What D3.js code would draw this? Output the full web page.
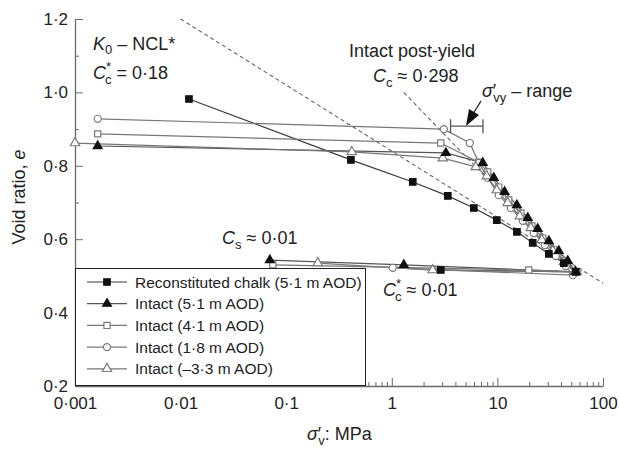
<!DOCTYPE html>
<html>
<head>
<meta charset="utf-8">
<script src="https://cdn.jsdelivr.net/npm/d3@7"></script>
<style>
  body { margin: 0; background: #fff; }
  svg { display: block; font-family: Arial, "Liberation Sans", sans-serif; }
</style>
</head>
<body>
<svg id="chart" width="619" height="450"></svg>
<script>
// Reconstituted chalk (5.1 m AOD)
const reconSigma = [0.012, 0.41, 1.58, 3.39, 5.98, 9.87, 15.3, 21.6, 30.7, 42.6, 55.2, 2.91];
const reconE     = [0.982, 0.816, 0.756, 0.718, 0.685, 0.652, 0.620, 0.590, 0.560, 0.535, 0.511, 0.516];

// Intact (5.1 m AOD)
const int51Sigma = [0.00164, 3.25, 7.27, 9.25, 11.7, 15.3, 19.4, 24.1, 30.7, 38.1, 46.4, 55.2, 1.30, 0.070];
const int51E     = [0.854, 0.835, 0.808, 0.767, 0.729, 0.693, 0.658, 0.628, 0.595, 0.568, 0.541, 0.511, 0.530, 0.543];

// Intact (4.1 m AOD)
const int41Sigma = [0.00164, 2.91, 6.67, 8.11, 10.3, 12.8, 16.7, 21.2, 26.9, 34.2, 43.5, 57.7, 19.8, 0.0747];
const int41E     = [0.887, 0.862, 0.810, 0.783, 0.742, 0.707, 0.671, 0.636, 0.603, 0.571, 0.538, 0.511, 0.516, 0.530];

// Intact (1.8 m AOD)
const int18Sigma = [0.00164, 3.11, 5.48, 6.67, 8.11, 10.3, 13.4, 17.4, 22.1, 28.1, 35.7, 44.4, 51.8, 1.02];
const int18E     = [0.928, 0.900, 0.862, 0.808, 0.767, 0.720, 0.685, 0.650, 0.617, 0.584, 0.554, 0.527, 0.502, 0.522];

// Intact (-3.3 m AOD)
const intM33Sigma = [0.001, 0.418, 3.04, 6.24, 7.94, 9.87, 12.5, 16.3, 20.7, 26.3, 33.5, 42.6, 54.1, 2.44, 0.199];
const intM33E     = [0.862, 0.838, 0.821, 0.797, 0.772, 0.734, 0.699, 0.663, 0.631, 0.598, 0.568, 0.538, 0.511, 0.516, 0.535];

// Reference lines: K0-NCL* (Cc* = 0.18) and intact post-yield (Cc = 0.298)
const nclSigma = [0.01, 100];
const nclE     = [1.2, 0.48];
const ccSigma  = [1.3, 55];
const ccE      = [1.0, 0.515];

// Yield stress range bracket
const yieldRange = [3.6, 7.3];
const yieldRangeE = 0.908;

const legendLabels = [
  "Reconstituted chalk (5·1 m AOD)",
  "Intact (5·1 m AOD)",
  "Intact (4·1 m AOD)",
  "Intact (1·8 m AOD)",
  "Intact (–3·3 m AOD)"
];

const xTicks = [0.001, 0.01, 0.1, 1, 10, 100];
const xTickLabels = ["0·001", "0·01", "0·1", "1", "10", "100"];
const yTicks = [0.2, 0.4, 0.6, 0.8, 1.0, 1.2];
const yTickLabels = ["0·2", "0·4", "0·6", "0·8", "1·0", "1·2"];

const svg = d3.select("#chart");

const x = d3.scaleLog().domain([0.001, 100]).range([75, 603]);
const y = d3.scaleLinear().domain([0.2, 1.2]).range([386, 19]);

const axisColor = "#6a6a6a";
const textColor = "#222";

// Minor ticks
const xMinor = [];
[0.001, 0.01, 0.1, 1, 10].forEach(dec => {
  for (let k = 2; k <= 9; k++) xMinor.push(dec * k);
});
const yMinor = [0.3, 0.5, 0.7, 0.9, 1.1];

// X axis
const xAxisG = svg.append("g")
  .attr("transform", "translate(0,386)")
  .attr("color", axisColor)
  .call(d3.axisBottom(x).tickValues(xTicks).tickSize(-8).tickSizeOuter(0)
    .tickPadding(11).tickFormat((d, i) => xTickLabels[i]));
xAxisG.selectAll("text").attr("fill", textColor).attr("font-size", 17)
  .attr("font-family", "Arial, 'Liberation Sans', sans-serif");
xAxisG.select(".domain").attr("stroke-width", 1.3);

svg.append("g")
  .attr("transform", "translate(0,386)")
  .attr("color", axisColor)
  .call(d3.axisBottom(x).tickValues(xMinor).tickSize(-4).tickFormat(""))
  .call(g => g.select(".domain").remove());

// Y axis
const yAxisG = svg.append("g")
  .attr("transform", "translate(75,0)")
  .attr("color", axisColor)
  .call(d3.axisLeft(y).tickValues(yTicks).tickSize(-8).tickSizeOuter(0)
    .tickPadding(7).tickFormat((d, i) => yTickLabels[i]));
yAxisG.selectAll("text").attr("fill", textColor).attr("font-size", 17)
  .attr("font-family", "Arial, 'Liberation Sans', sans-serif");
yAxisG.select(".domain").attr("stroke-width", 1.3);

svg.append("g")
  .attr("transform", "translate(75,0)")
  .attr("color", axisColor)
  .call(d3.axisLeft(y).tickValues(yMinor).tickSize(-4).tickFormat(""))
  .call(g => g.select(".domain").remove());

// Axis titles
svg.append("text")
  .attr("transform", "translate(25,197) rotate(-90)")
  .attr("text-anchor", "middle")
  .attr("font-size", 18)
  .attr("fill", textColor)
  .html('Void ratio, <tspan font-style="italic">e</tspan>');

svg.append("text")
  .attr("x", 307).attr("y", 440)
  .attr("font-size", 18)
  .attr("fill", textColor)
  .html('<tspan font-style="italic">σ</tspan><tspan>′</tspan><tspan font-size="13" dx="-3" dy="5">v</tspan><tspan dy="-5">: MPa</tspan>');

// Dashed reference lines
const line = d3.line().x(d => x(d[0])).y(d => y(d[1]));
[[nclSigma, nclE], [ccSigma, ccE]].forEach(([s, e]) => {
  svg.append("path")
    .datum(s.map((v, i) => [v, e[i]]))
    .attr("d", line)
    .attr("fill", "none")
    .attr("stroke", "#666")
    .attr("stroke-width", 1.1)
    .attr("stroke-dasharray", "4,3");
});

// Series
const series = [
  { s: reconSigma,  e: reconE,  sym: d3.symbolSquare,   size: 42, filled: true,  line: "#3a3a3a" },
  { s: int51Sigma,  e: int51E,  sym: d3.symbolTriangle, size: 34, filled: true,  line: "#555" },
  { s: int41Sigma,  e: int41E,  sym: d3.symbolSquare,   size: 38, filled: false, line: "#777" },
  { s: int18Sigma,  e: int18E,  sym: d3.symbolCircle,   size: 40, filled: false, line: "#777" },
  { s: intM33Sigma, e: intM33E, sym: d3.symbolTriangle, size: 38, filled: false, line: "#777" }
];

series.forEach(sr => {
  svg.append("path")
    .datum(sr.s.map((v, i) => [v, sr.e[i]]))
    .attr("d", line)
    .attr("fill", "none")
    .attr("stroke", sr.line)
    .attr("stroke-width", 1.2);
});

function markerStyle(sel, sr) {
  sel.attr("fill", sr.filled ? "#111" : "#fff")
    .attr("stroke", sr.filled ? "#111" : "#7a7a7a")
    .attr("stroke-width", 1.2);
}

// draw open markers first, filled on top
[2, 3, 4, 0, 1].forEach(k => {
  const sr = series[k];
  svg.append("g").selectAll("path")
    .data(sr.s.map((v, i) => [v, sr.e[i]]))
    .join("path")
    .attr("d", d3.symbol().type(sr.sym).size(sr.size))
    .attr("transform", d => `translate(${x(d[0])},${y(d[1])})`)
    .call(markerStyle, sr);
});

// Yield range bracket and arrow
const by = y(yieldRangeE);
const bx0 = x(yieldRange[0]), bx1 = x(yieldRange[1]);
const bracket = svg.append("g").attr("stroke", "#555").attr("stroke-width", 1.3);
bracket.append("line").attr("x1", bx0).attr("x2", bx1).attr("y1", by).attr("y2", by);
bracket.append("line").attr("x1", bx0).attr("x2", bx0).attr("y1", by - 7).attr("y2", by + 7);
bracket.append("line").attr("x1", bx1).attr("x2", bx1).attr("y1", by - 7).attr("y2", by + 7);

svg.append("line")
  .attr("x1", 481).attr("y1", 101).attr("x2", 473).attr("y2", 114)
  .attr("stroke", "#222").attr("stroke-width", 1.3);
svg.append("path")
  .attr("d", "M466,126 L469,109 L479,115 Z")
  .attr("fill", "#111");

// Annotations
const ann = svg.append("g").attr("fill", textColor).attr("font-size", 18);
ann.append("text").attr("x", 93).attr("y", 50)
  .html('<tspan font-style="italic">K</tspan><tspan font-size="13" dy="4">0</tspan><tspan dy="-4"> – NCL*</tspan>');
ann.append("text").attr("x", 93).attr("y", 79)
  .html('<tspan font-style="italic">C</tspan><tspan font-size="13" dy="-8">*</tspan><tspan font-size="13" dx="-6" dy="13">c</tspan><tspan dy="-5"> = 0·18</tspan>');
ann.append("text").attr("x", 349).attr("y", 57).text("Intact post-yield");
ann.append("text").attr("x", 373).attr("y", 82)
  .html('<tspan font-style="italic">C</tspan><tspan font-size="13" dy="5">c</tspan><tspan dy="-5"> ≈ 0·298</tspan>');
ann.append("text").attr("x", 482).attr("y", 97)
  .html('<tspan font-style="italic">σ</tspan><tspan>′</tspan><tspan font-size="13" dx="-3" dy="5">vy</tspan><tspan dy="-5"> – range</tspan>');
ann.append("text").attr("x", 222).attr("y", 244)
  .html('<tspan font-style="italic">C</tspan><tspan font-size="13" dy="5">s</tspan><tspan dy="-5"> ≈ 0·01</tspan>');
ann.append("text").attr("x", 383).attr("y", 296)
  .html('<tspan font-style="italic">C</tspan><tspan font-size="13" dy="-8">*</tspan><tspan font-size="13" dx="-6" dy="13">c</tspan><tspan dy="-5"> ≈ 0·01</tspan>');

// Legend
const legend = svg.append("g");
legend.append("rect")
  .attr("x", 75.5).attr("y", 268.5).attr("width", 290).attr("height", 117)
  .attr("fill", "#fff").attr("stroke", "#222").attr("stroke-width", 1);

legendLabels.forEach((lab, i) => {
  const sr = series[i];
  const ly = 282 + i * 21.7;
  legend.append("line")
    .attr("x1", 87).attr("x2", 127).attr("y1", ly).attr("y2", ly)
    .attr("stroke", sr.line).attr("stroke-width", 1.2);
  legend.append("path")
    .attr("d", d3.symbol().type(sr.sym).size(sr.size)())
    .attr("transform", `translate(107,${ly})`)
    .call(markerStyle, sr);
  legend.append("text")
    .attr("x", 135).attr("y", ly + 5.5)
    .attr("font-size", 15.5).attr("fill", textColor)
    .text(lab);
});
</script>
</body>
</html>
